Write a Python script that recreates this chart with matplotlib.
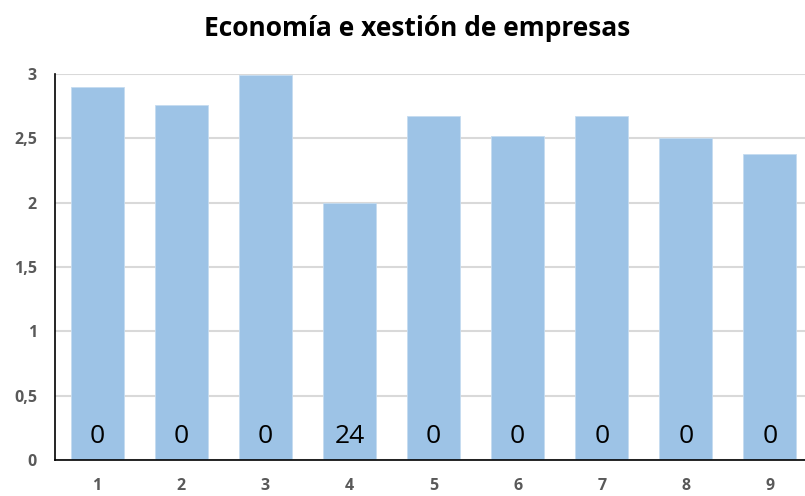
import matplotlib.pyplot as plt

# Données du graphique
categories = [1, 2, 3, 4, 5, 6, 7, 8, 9]
valores = [2.90, 2.76, 2.99, 2.00, 2.67, 2.52, 2.67, 2.50, 2.38]
etiquetas = ['0', '0', '0', '24', '0', '0', '0', '0', '0']
yticks = [0, 0.5, 1, 1.5, 2, 2.5, 3]
yticklabels = ['0', '0,5', '1', '1,5', '2', '2,5', '3']

plt.rcParams['font.family'] = ['Open Sans', 'DejaVu Sans']

fig = plt.figure(figsize=(8.05, 4.96), dpi=100)
ax = fig.add_axes([55 / 805, 36 / 496, 757 / 805, 386 / 496])

ax.bar(categories, valores, width=0.63, color='#9dc3e6', edgecolor='#c5dcf0', linewidth=0.6, zorder=2)

for x, txt in zip(categories, etiquetas):
    ax.text(x, 0.18, txt, ha='center', va='center', fontsize=19, color='black', zorder=3)

ax.set_xlim(0.5, 9.5)
ax.set_ylim(0, 3)
ax.set_yticks(yticks)
ax.set_yticklabels(yticklabels)
ax.set_xticks(categories)
ax.set_xticklabels([str(c) for c in categories])

ax.tick_params(axis='y', length=0, pad=13, labelsize=11.5, labelcolor='#595959')
ax.tick_params(axis='x', length=0, pad=13, labelsize=11.5, labelcolor='#595959')
for lab in ax.get_xticklabels() + ax.get_yticklabels():
    lab.set_fontweight('bold')

ax.grid(axis='y', color='#d9d9d9', linewidth=1.5, zorder=0)
ax.set_axisbelow(True)
ax.spines['top'].set_visible(False)
ax.spines['right'].set_visible(False)
ax.spines['left'].set_color('black')
ax.spines['bottom'].set_color('black')
ax.spines['left'].set_linewidth(1.2)
ax.spines['bottom'].set_linewidth(1.2)

fig.text(417 / 805, 1 - 28 / 496, 'Economía e xestión de empresas', ha='center', va='center',
         fontsize=19, fontweight='bold', color='black')

fig.savefig('out.png', dpi=100)
